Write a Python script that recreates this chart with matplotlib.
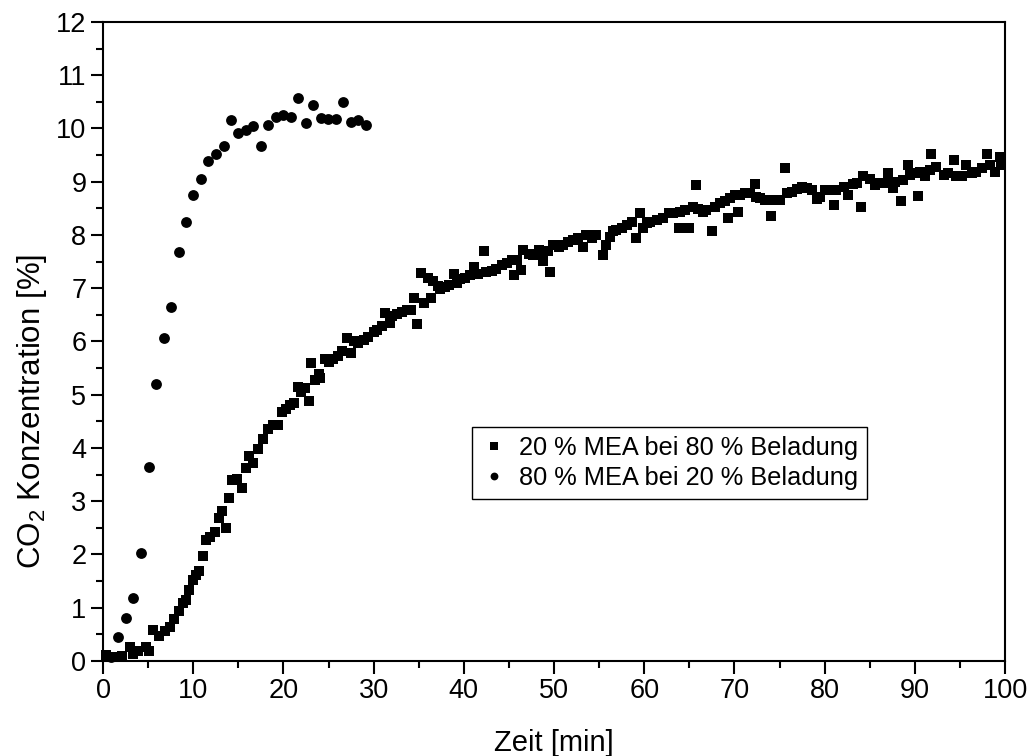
import matplotlib
matplotlib.use("Agg")
import matplotlib.pyplot as plt
from matplotlib.ticker import MultipleLocator

plt.rcParams['font.family'] = ['Liberation Sans', 'DejaVu Sans']
plt.rcParams['mathtext.fontset'] = 'custom'
plt.rcParams['mathtext.rm'] = 'Liberation Sans'

# 20 % MEA bei 80 % Beladung (squares)
x_sq = [0.33, 1.14, 2.1, 3.0, 3.36, 3.9, 4.77, 5.14, 5.58, 6.24, 6.87, 7.43, 7.87, 8.43, 8.9,
        9.2, 9.57, 9.94, 10.31, 10.68, 11.05, 11.42, 11.86, 12.42, 12.9, 13.23, 13.64, 13.97,
        14.34, 14.8, 15.45, 15.8, 16.2, 16.6, 17.2, 17.7, 18.3, 18.9, 19.4, 19.8, 20.3, 20.7,
        21.2, 21.65, 22.0, 22.4, 22.8, 23.1, 23.5, 23.9, 24.1, 24.6, 25.1, 25.5, 26.0, 26.5,
        27.0, 27.5, 27.8, 28.3, 28.9, 29.4, 30.0, 30.4, 30.9, 31.3, 31.8, 32.0, 32.6, 33.1,
        33.7, 34.1, 34.5, 34.8, 35.2, 35.6, 36.0, 36.4, 36.6, 37.1, 37.4, 37.9, 38.4, 38.9,
        39.2, 39.6, 40.1, 40.7, 41.1, 41.6, 42.2, 42.5, 43.1, 43.6, 44.2, 44.8, 45.3, 45.6,
        45.9, 46.3, 46.6, 47.2, 47.7, 48.3, 48.5, 48.8, 49.3, 49.6, 49.9, 50.5, 51.0, 51.6,
        52.1, 52.7, 53.2, 53.6, 54.2, 54.7, 55.4, 55.8, 56.2, 56.5, 56.9, 57.5, 58.1, 58.6,
        59.1, 59.5, 59.9, 60.3, 60.6, 61.4, 62.1, 62.7, 63.2, 63.9, 64.0, 64.5, 65.0, 65.4,
        65.7, 66.0, 66.55, 66.9, 67.5, 67.85, 68.4, 68.96, 69.3, 69.5, 70.1, 70.4, 70.6, 71.2,
        71.7, 72.3, 72.4, 72.8, 73.4, 73.9, 74.1, 74.5, 75.1, 75.6, 75.8, 76.35, 76.9, 77.5,
        78.0, 78.6, 79.1, 79.5, 80.0, 80.4, 81.05, 81.3, 82.1, 82.6, 83.2, 83.6, 84.0, 84.3,
        85.0, 85.6, 86.1, 86.9, 87.0, 87.6, 87.8, 88.5, 88.7, 89.2, 89.5, 90.0, 90.3, 90.6,
        91.1, 91.7, 91.8, 92.4, 93.2, 93.7, 94.3, 94.6, 95.2, 95.7, 96.3, 96.8, 97.4, 98.0,
        98.3, 98.9, 99.4, 99.6]
y_sq = [0.11, 0.07, 0.09, 0.27, 0.13, 0.19, 0.27, 0.18, 0.58, 0.46, 0.57, 0.64, 0.78, 0.93, 1.08,
        1.15, 1.33, 1.52, 1.62, 1.69, 1.97, 2.28, 2.32, 2.43, 2.69, 2.82, 2.49, 3.07,
        3.40, 3.41, 3.24, 3.62, 3.85, 3.71, 3.99, 4.16, 4.35, 4.43, 4.44, 4.68, 4.74, 4.81,
        4.85, 5.15, 5.06, 5.12, 4.89, 5.59, 5.28, 5.38, 5.32, 5.67, 5.61, 5.68, 5.73, 5.83,
        6.06, 5.79, 6.01, 5.97, 6.03, 6.09, 6.17, 6.22, 6.29, 6.54, 6.34, 6.47, 6.51, 6.55,
        6.59, 6.60, 6.82, 6.32, 7.28, 6.72, 7.20, 6.82, 7.14, 7.05, 6.99, 7.03, 7.07, 7.26,
        7.09, 7.17, 7.20, 7.25, 7.39, 7.27, 7.69, 7.31, 7.33, 7.37, 7.44, 7.48, 7.53, 7.25,
        7.53, 7.34, 7.71, 7.64, 7.62, 7.72, 7.67, 7.52, 7.69, 7.31, 7.81, 7.78, 7.81, 7.87,
        7.91, 7.94, 7.78, 8.0, 7.94, 8.0, 7.62, 7.81, 7.97, 8.08, 8.09, 8.13, 8.19, 8.25,
        7.94, 8.41, 8.13, 8.22, 8.25, 8.28, 8.31, 8.41, 8.42, 8.14, 8.44, 8.47, 8.13, 8.52,
        8.93, 8.48, 8.44, 8.47, 8.07, 8.53, 8.61, 8.64, 8.32, 8.69, 8.75, 8.43, 8.75, 8.78,
        8.78, 8.96, 8.72, 8.69, 8.66, 8.66, 8.36, 8.66, 8.66, 9.26, 8.78, 8.81, 8.86, 8.9,
        8.88, 8.85, 8.67, 8.72, 8.85, 8.85, 8.56, 8.85, 8.9, 8.75, 8.96, 8.98, 8.52, 9.1,
        9.05, 8.94, 8.97, 8.98, 9.17, 8.88, 9.0, 8.64, 9.03, 9.31, 9.13, 9.16, 8.74, 9.19,
        9.1, 9.22, 9.52, 9.28, 9.13, 9.16, 9.4, 9.1, 9.1, 9.31, 9.16, 9.19, 9.25, 9.52,
        9.31, 9.19, 9.47, 9.31]

# 80 % MEA bei 20 % Beladung (circles)
x_ci = [0.85, 1.70, 2.51, 3.36, 4.18, 5.06, 5.87, 6.76, 7.54, 8.43, 9.2, 9.98, 10.86, 11.6,
        12.5, 13.4, 14.2, 15.0, 15.9, 16.6, 17.5, 18.3, 19.2, 20.0, 20.8, 21.6, 22.5, 23.3,
        24.2, 24.9, 25.8, 26.6, 27.5, 28.3, 29.2]
y_ci = [0.08, 0.45, 0.81, 1.18, 2.03, 3.64, 5.21, 6.07, 6.65, 7.68, 8.24, 8.75, 9.05, 9.39,
        9.52, 9.67, 10.16, 9.92, 9.97, 10.05, 9.67, 10.07, 10.22, 10.25, 10.22, 10.57, 10.1,
        10.44, 10.2, 10.18, 10.18, 10.5, 10.12, 10.16, 10.07]

label_sq = "20 % MEA bei 80 % Beladung"
label_ci = "80 % MEA bei 20 % Beladung"
x_label = "Zeit [min]"
y_label = r"$\mathregular{CO_2}$ Konzentration [%]"
x_ticks = [0, 10, 20, 30, 40, 50, 60, 70, 80, 90, 100]
y_ticks = [0, 1, 2, 3, 4, 5, 6, 7, 8, 9, 10, 11, 12]

fig = plt.figure(figsize=(10.29, 7.56), dpi=100)
ax = fig.add_axes([0.1001, 0.1257, 0.8766, 0.8452])

ax.plot(x_sq, y_sq, linestyle='none', marker='s', markersize=7.2, color='black',
        markeredgewidth=0, label=label_sq, clip_on=False)
ax.plot(x_ci, y_ci, linestyle='none', marker='o', markersize=7.8, color='black',
        markeredgewidth=0, label=label_ci, clip_on=False)

ax.set_xlim(0, 100)
ax.set_ylim(0, 12)
ax.set_xticks(x_ticks)
ax.set_yticks(y_ticks)
ax.xaxis.set_minor_locator(MultipleLocator(5))
ax.yaxis.set_minor_locator(MultipleLocator(0.5))
ax.tick_params(which='major', direction='out', length=9, width=1.5, labelsize=19.5,
               top=False, right=False, pad=3)
ax.tick_params(which='minor', direction='out', length=5, width=1.5, top=False, right=False)
for s in ax.spines.values():
    s.set_linewidth(1.5)

ax.set_xlabel(x_label, fontsize=21, labelpad=18)
ax.set_ylabel(y_label, fontsize=22.5)
ax.yaxis.set_label_coords(-0.06, 0.391)

leg = ax.legend(loc='upper left', bbox_to_anchor=(0.409, 0.366), borderaxespad=0,
                fontsize=18.3, frameon=True, fancybox=False, edgecolor='black',
                framealpha=1, markerscale=0.72, handlelength=1.0, handletextpad=0.5,
                borderpad=0.35, labelspacing=0.25)
leg.get_frame().set_linewidth(1.0)

fig.savefig("out.png", dpi=100)
